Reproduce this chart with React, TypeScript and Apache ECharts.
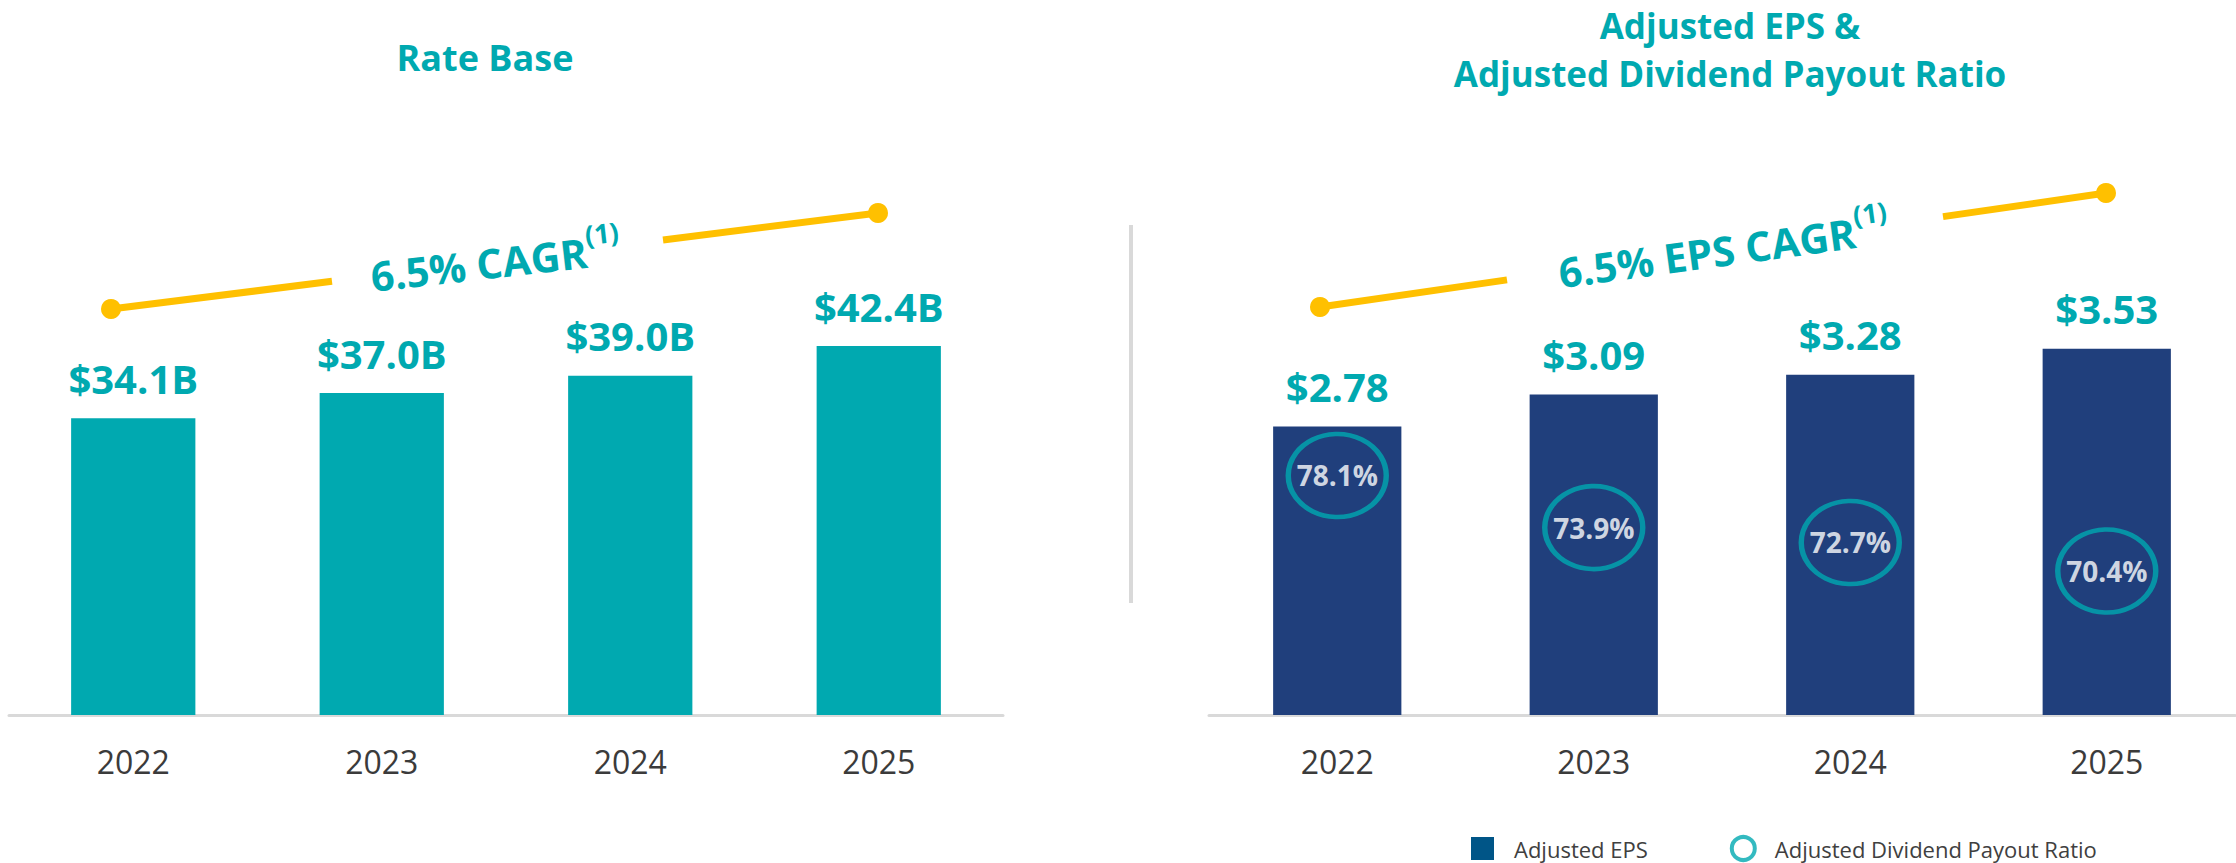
import React, { useEffect, useRef } from 'react';
import * as echarts from 'echarts';

const years = ['2022', '2023', '2024', '2025'];
const rateBase = [34.1, 37.0, 39.0, 42.4];
const adjustedEps = [2.78, 3.09, 3.28, 3.53];
const payoutRatio = [78.1, 73.9, 72.7, 70.4];

const TEAL = '#00A9B0';
const NAVY = '#203F7C';
const YELLOW = '#FFC000';
const LEGEND_BLUE = '#005587';
const FONT = '"Open Sans", "Noto Sans", sans-serif';

function cagrGraphic(
  x1: number, y1: number, x2: number, y2: number,
  gapStart: number, gapEnd: number,
  label: string, tx: number, ty: number, rot: number
) {
  const yAt = (x: number) => y1 + ((x - x1) * (y2 - y1)) / (x2 - x1);
  return [
    { type: 'line', z: 10, shape: { x1, y1, x2: gapStart, y2: yAt(gapStart) }, style: { stroke: YELLOW, lineWidth: 7 } },
    { type: 'line', z: 10, shape: { x1: gapEnd, y1: yAt(gapEnd), x2, y2 }, style: { stroke: YELLOW, lineWidth: 7 } },
    { type: 'circle', z: 10, shape: { cx: x1, cy: y1, r: 10 }, style: { fill: YELLOW } },
    { type: 'circle', z: 10, shape: { cx: x2, cy: y2, r: 10 }, style: { fill: YELLOW } },
    {
      type: 'text', z: 10, x: tx, y: ty, rotation: rot,
      style: {
        text: `{m|${label}}{s|(1)}`,
        align: 'center', verticalAlign: 'middle', fill: TEAL,
        rich: {
          m: { fontFamily: FONT, fontSize: 41, fontWeight: 'bold', fill: TEAL, padding: [10, 0, 0, 0] },
          s: { fontFamily: FONT, fontSize: 27, fontWeight: 'bold', fill: TEAL, verticalAlign: 'top' },
        },
      },
    },
  ];
}

const titleStyle = {
  align: 'center', verticalAlign: 'middle', fill: TEAL,
  fontFamily: FONT, fontSize: 35, fontWeight: 'bold',
};

export default function App() {
  const ref = useRef<HTMLDivElement>(null);
  useEffect(() => {
    const chart = echarts.init(ref.current!, null, { renderer: 'svg' });
    const xAxisCommon = {
      type: 'category',
      data: years,
      axisTick: { show: false },
      axisLine: { lineStyle: { color: '#D9D9D9', width: 3 } },
      axisLabel: { fontFamily: FONT, fontSize: 32, color: '#3B3B3B', margin: 30 },
    };
    chart.setOption({
      animation: false,
      backgroundColor: '#ffffff',
      grid: [
        { left: 9, width: 994, top: 280, height: 435 },
        { left: 1209, width: 1026, top: 300, height: 415 },
      ],
      xAxis: [
        { ...xAxisCommon, gridIndex: 0 },
        { ...xAxisCommon, gridIndex: 1 },
      ],
      yAxis: [
        { type: 'value', gridIndex: 0, min: 0, max: 50, show: false, splitLine: { show: false } },
        { type: 'value', gridIndex: 1, min: 0, max: 4, show: false, splitLine: { show: false } },
        { type: 'value', gridIndex: 1, min: 58.8, max: 92.24, show: false, splitLine: { show: false } },
      ],
      legend: {
        left: 1471,
        top: 835,
        padding: 0,
        itemWidth: 23,
        itemHeight: 23,
        itemGap: 82,
        selectedMode: false,
        textStyle: { fontFamily: FONT, fontSize: 22, color: '#404040', padding: [0, 0, 0, 15] },
        data: [
          { name: 'Adjusted EPS', icon: 'rect', itemStyle: { color: LEGEND_BLUE, borderWidth: 0 } },
          {
            name: 'Adjusted Dividend Payout Ratio',
            icon: 'circle',
            itemStyle: { color: 'rgba(0,0,0,0)', borderColor: TEAL, borderWidth: 4 },
          },
        ],
      },
      graphic: [
        { type: 'text', x: 485, y: 57, style: { ...titleStyle, fontSize: 36, text: 'Rate Base' } },
        { type: 'text', x: 1730, y: 25, style: { ...titleStyle, text: 'Adjusted EPS &' } },
        { type: 'text', x: 1730, y: 73, style: { ...titleStyle, text: 'Adjusted Dividend Payout Ratio' } },
        { type: 'line', shape: { x1: 1131, y1: 225, x2: 1131, y2: 603 }, style: { stroke: '#D9D9D9', lineWidth: 4 } },
        ...cagrGraphic(111, 309, 878, 213, 332, 663, '6.5% CAGR', 495, 257, 0.112),
        ...cagrGraphic(1320, 307, 2106, 193, 1507, 1943, '6.5% EPS CAGR', 1723, 245, 0.135),
      ],
      series: [
        {
          name: 'Rate Base',
          type: 'bar',
          xAxisIndex: 0,
          yAxisIndex: 0,
          data: rateBase,
          barWidth: '50%',
          itemStyle: { color: TEAL },
          label: {
            show: true, position: 'top', distance: 20,
            fontFamily: FONT, fontSize: 40, fontWeight: 'bold', color: TEAL,
            formatter: (p: any) => `$${Number(p.value).toFixed(1)}B`,
          },
        },
        {
          name: 'Adjusted EPS',
          type: 'bar',
          xAxisIndex: 1,
          yAxisIndex: 1,
          data: adjustedEps,
          barWidth: '50%',
          itemStyle: { color: NAVY },
          label: {
            show: true, position: 'top', distance: 20,
            fontFamily: FONT, fontSize: 40, fontWeight: 'bold', color: TEAL,
            formatter: (p: any) => `$${Number(p.value).toFixed(2)}`,
          },
        },
        {
          name: 'Adjusted Dividend Payout Ratio',
          type: 'scatter',
          xAxisIndex: 1,
          yAxisIndex: 2,
          data: payoutRatio,
          symbol: 'circle',
          symbolSize: [98, 83],
          z: 5,
          itemStyle: { color: 'rgba(0,0,0,0)', borderColor: TEAL, borderWidth: 5 },
          label: {
            show: true, position: 'inside',
            fontFamily: FONT, fontSize: 28, fontWeight: 'bold', color: '#ffffff',
            formatter: (p: any) => `${Number(p.value).toFixed(1)}%`,
          },
        },
      ],
    });
    return () => chart.dispose();
  }, []);
  return <div ref={ref} style={{ position: 'fixed', left: 0, top: 0, width: 2236, height: 863 }} />;
}
